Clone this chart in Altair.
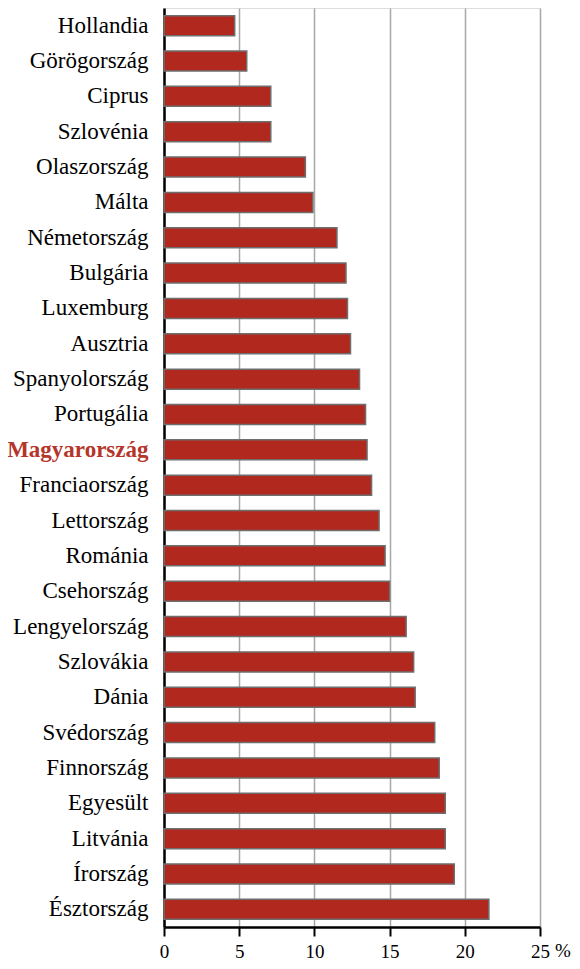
import altair as alt
import pandas as pd

countries = ["Hollandia", "Görögország", "Ciprus", "Szlovénia", "Olaszország", "Málta",
             "Németország", "Bulgária", "Luxemburg", "Ausztria", "Spanyolország", "Portugália",
             "Magyarország", "Franciaország", "Lettország", "Románia", "Csehország",
             "Lengyelország", "Szlovákia", "Dánia", "Svédország", "Finnország", "Egyesült",
             "Litvánia", "Írország", "Észtország"]
values = [4.7, 5.5, 7.1, 7.1, 9.4, 9.9, 11.5, 12.1, 12.2, 12.4, 13.0, 13.4, 13.5, 13.8,
          14.3, 14.7, 15.0, 16.1, 16.6, 16.7, 18.0, 18.3, 18.7, 18.7, 19.3, 21.6]
x_ticks = [0, 5, 10, 15, 20, 25]
unit_label = ["%"]
highlight = "Magyarország"

W, H = 376, 919
FONT = "Liberation Serif"
RED = "#b0281e"

df = pd.DataFrame({"country": countries, "value": values})

xscale = alt.Scale(domain=[0, 25], nice=False)

bars = alt.Chart(df).mark_bar(
    size=20, color=RED, stroke="#6e6e6e", strokeWidth=1.5
).encode(
    x=alt.X("value:Q", scale=xscale, title=None,
            axis=alt.Axis(values=x_ticks, grid=True, gridColor="#a8a8a8", gridWidth=1.5,
                          domainColor="black", domainWidth=2.5, tickColor="black",
                          tickWidth=2, tickSize=9, labelPadding=6, labelFont=FONT,
                          labelFontSize=19, labelColor="black", labelFlush=False)),
    y=alt.Y("country:N", sort=countries, title=None,
            scale=alt.Scale(paddingInner=0, paddingOuter=0),
            axis=alt.Axis(ticks=False, domainColor="black", domainWidth=2.5,
                          labelPadding=16, labelFont=FONT, labelFontSize=23, labelLimit=300,
                          labelColor={"condition": {"test": f"datum.value === '{highlight}'",
                                                    "value": "#b5352a"}, "value": "black"},
                          labelFontWeight={"condition": {"test": f"datum.value === '{highlight}'",
                                                         "value": "bold"}, "value": "normal"})),
)

pct = alt.Chart(pd.DataFrame({"u": unit_label})).mark_text(
    font=FONT, fontSize=19, baseline="top", align="left", dx=15, color="black"
).encode(
    x=alt.datum(25, scale=xscale),
    y=alt.value(H + 15),
    text="u:N",
)

chart = alt.layer(bars, pct).properties(
    width=W, height=H,
    autosize=alt.AutoSizeParams(type="none"),
    padding={"left": 156, "top": 0, "right": 32, "bottom": 34},
).configure_view(stroke="black", strokeWidth=2.5).configure(background="white")

chart.save("out.html", embed_options={"renderer": "svg", "actions": False})
